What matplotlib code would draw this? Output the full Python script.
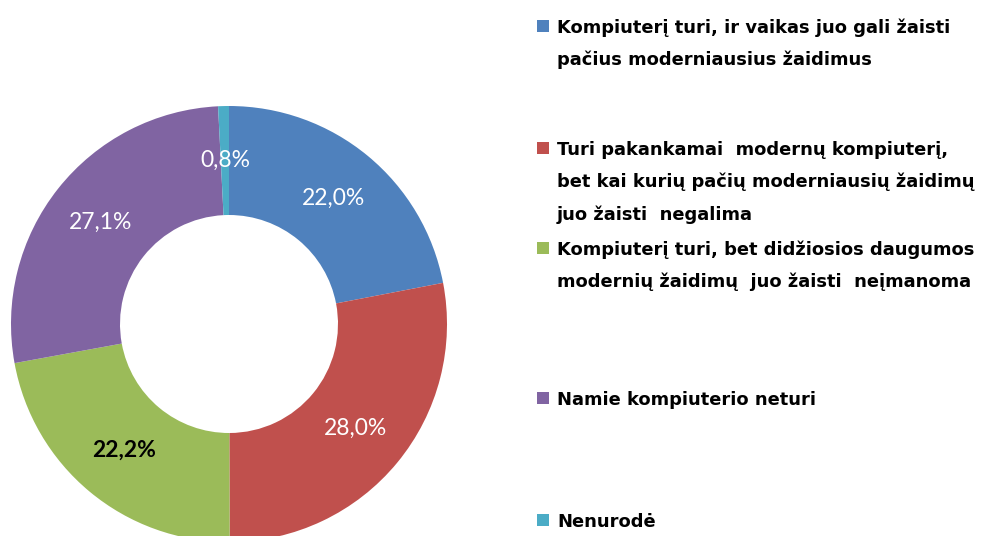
import matplotlib
matplotlib.use("Agg")
import matplotlib.pyplot as plt
import numpy as np
from matplotlib.patches import Rectangle

categories = [
    "Kompiuterį turi, ir vaikas juo gali žaisti\npačius moderniausius žaidimus",
    "Turi pakankamai  modernų kompiuterį,\nbet kai kurių pačių moderniausių žaidimų\njuo žaisti  negalima",
    "Kompiuterį turi, bet didžiosios daugumos\nmodernių žaidimų  juo žaisti  neįmanoma",
    "Namie kompiuterio neturi",
    "Nenurodė",
]
values = [22.0, 28.0, 22.2, 27.1, 0.8]
value_labels = ["22,0%", "28,0%", "22,2%", "27,1%", "0,8%"]
colors = ["#4F81BD", "#C0504D", "#9BBB59", "#8064A2", "#4BACC6"]
label_colors = ["white", "white", "black", "white", "white"]
label_weights = ["normal", "normal", "bold", "normal", "normal"]

W, H = 1001, 536
fig = plt.figure(figsize=(W / 100, H / 100), dpi=100)

cx, cy, R = 229, 324, 218  # pixels (y from top)
ax = fig.add_axes([(cx - R) / W, (H - cy - R) / H, 2 * R / W, 2 * R / H])
ax.axis("off")

wedges, _ = ax.pie(values, colors=colors, startangle=90, counterclock=False,
                   radius=1.0, wedgeprops=dict(width=0.5, linewidth=0))
ax.set_xlim(-1, 1)
ax.set_ylim(-1, 1)

for w, lab, c, fw in zip(wedges, value_labels, label_colors, label_weights):
    ang = np.deg2rad((w.theta1 + w.theta2) / 2)
    r = 0.75
    ax.text(r * np.cos(ang), r * np.sin(ang), lab, ha="center", va="center",
            color=c, fontsize=16.5, fontweight=fw, family=["Lato", "DejaVu Sans"])

# legend
line_y = [[26, 58], [148, 180, 213], [248, 280], [398], [520]]
for cat, col, ys in zip(categories, colors, line_y):
    lines = cat.split("\n")
    sq = 12
    fig.patches.append(Rectangle((537 / W, (H - ys[0] - sq / 2) / H), sq / W, sq / H,
                                 transform=fig.transFigure, facecolor=col,
                                 edgecolor="none"))
    for ln, y in zip(lines, ys):
        fig.text(557 / W, (H - y) / H, ln, ha="left", va="center_baseline",
                 fontsize=12.9, fontweight="bold", family=["DejaVu Sans"],
                 color="black")

fig.savefig("out.png", dpi=100)
